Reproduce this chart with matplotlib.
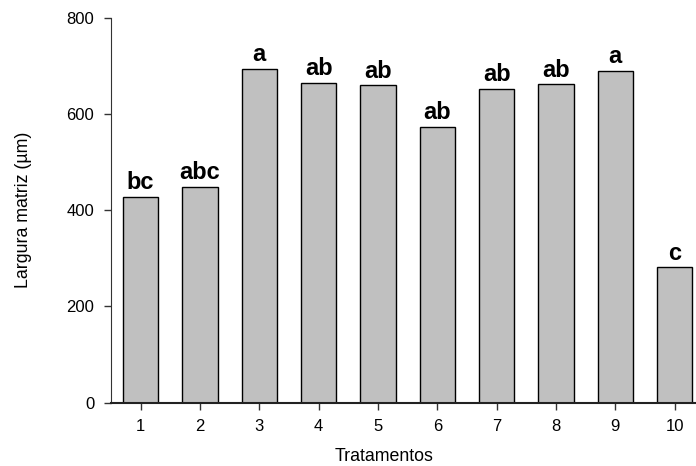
import matplotlib.pyplot as plt

plt.rcParams['font.family'] = ['Liberation Sans', 'DejaVu Sans']

tratamentos = ['1', '2', '3', '4', '5', '6', '7', '8', '9', '10']
largura = [427, 449, 694, 665, 659, 573, 651, 661, 689, 281]
letras = ['bc', 'abc', 'a', 'ab', 'ab', 'ab', 'ab', 'ab', 'a', 'c']

fig = plt.figure(figsize=(6.96, 4.66), dpi=100)
ax = fig.add_axes([111 / 696, 1 - 402.7 / 466, 585 / 696, (402.7 - 17.5) / 466])

pos = list(range(1, len(largura) + 1))
ax.bar(pos, largura, width=0.6, color='#c0c0c0', edgecolor='black', linewidth=1)

# letras de significancia sobre cada barra
for x, v, t in zip(pos, largura, letras):
    ax.annotate(t, (x, v), xytext=(0, 2), textcoords='offset points',
                ha='center', va='bottom', fontsize=17, fontweight='bold')

ax.set_xlim(0.5, 10.36)
ax.set_ylim(0, 800)
ax.set_xticks(pos)
ax.set_xticklabels(tratamentos)
ax.set_yticks([0, 200, 400, 600, 800])
ax.tick_params(labelsize=12, length=5, width=1, color='#333333', pad=7)

for s in ['top', 'right']:
    ax.spines[s].set_visible(False)
ax.spines['left'].set_color('#333333')
ax.spines['bottom'].set_linewidth(1.5)
ax.spines['bottom'].set_color('#222222')

ax.set_xlabel('Tratamentos', fontsize=12.8)
ax.xaxis.set_label_coords(0.467, -0.117)
ax.set_ylabel('Largura matriz (µm)', fontsize=12.8, labelpad=25)

plt.savefig('out.png', dpi=100)
